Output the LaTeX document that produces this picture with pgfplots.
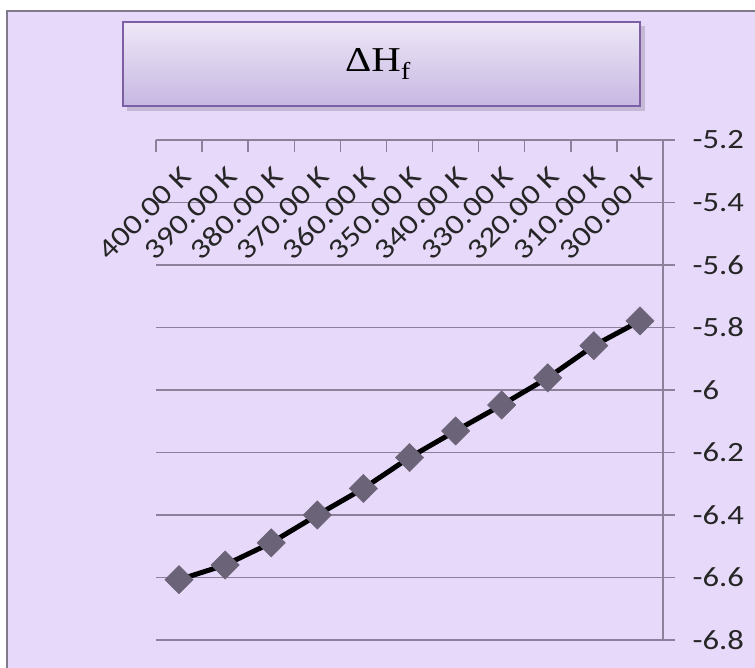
\documentclass[border=0pt]{standalone}
\usepackage{fontspec}
\usepackage{pgfplots}
\pgfplotsset{compat=1.18}
\setmainfont{Carlito}
\newfontfamily\lab[FakeStretch=1.17]{Carlito}
\newfontfamily\ttl[FakeStretch=1.17]{Liberation Serif}
\definecolor{bg}{RGB}{231,217,250}
\definecolor{gridc}{RGB}{140,128,155}
\definecolor{mk}{RGB}{107,99,119}
\definecolor{bord}{RGB}{125,95,166}
\definecolor{outerc}{RGB}{128,122,140}
\definecolor{ttop}{RGB}{238,232,247}
\definecolor{tbot}{RGB}{199,183,226}
\begin{document}
\begin{tikzpicture}
\useasboundingbox (0,0) rectangle (755bp,-668bp);
\fill[white] (0,0) rectangle (755bp,-668bp);
\fill[bg] (7bp,-11bp) rectangle (755bp,-668bp);
\draw[outerc, line width=2.5bp] (7bp,-668bp) -- (7bp,-11bp) -- (755bp,-11bp);
% title box
\fill[black, opacity=0.15] (127bp,-26bp) rectangle (645bp,-111bp);
\shade[top color=ttop, bottom color=tbot] (123bp,-22bp) rectangle (640bp,-106bp);
\draw[bord, line width=2.5bp] (123bp,-22bp) rectangle (640bp,-106bp);
\node[anchor=base, inner sep=0pt, font=\ttl\fontsize{35}{40}\selectfont] at (378bp,-71bp) {ΔH\textsubscript{f}};
\begin{axis}[
  at={(156bp,-640bp)}, anchor=south west,
  width=507bp, height=500bp, scale only axis,
  xmin=-0.5, xmax=10.5, ymin=-6.8, ymax=-5.2,
  axis x line*=top, axis y line*=right,
  axis line style={gridc, line width=1.8bp},
  tick align=outside, major tick length=11.5bp,
  xtick={0,...,10},
  xticklabels={400.00 K,390.00 K,380.00 K,370.00 K,360.00 K,350.00 K,340.00 K,330.00 K,320.00 K,310.00 K,300.00 K},
  x tick style={gridc, line width=1.5bp, xshift=-23.045bp, yshift=-11.5bp},
  y tick style={gridc, line width=1.5bp},
  ytick={-6.8,-6.6,-6.4,-6.2,-6,-5.8,-5.6,-5.4,-5.2},
  yticklabels={-6.8,-6.6,-6.4,-6.2,-6,-5.8,-5.6,-5.4,-5.2},
  ymajorgrids, grid style={gridc, line width=1.5bp},
  xticklabel style={font=\lab\fontsize{28.5}{31}\selectfont, text=black!85, inner sep=0pt, anchor=east, xshift=7bp, yshift=-43bp, rotate=45},
  yticklabel style={font=\lab\fontsize{28}{31}\selectfont, text=black!85, inner sep=0pt, anchor=west, xshift=18bp},
  clip=false,
]
\addplot[black, line width=5bp, mark=square*, mark size=10bp, mark options={fill=mk, draw=mk, rotate=45, line width=0.5bp}] coordinates {
(0,-6.607) (1,-6.560) (2,-6.489) (3,-6.400) (4,-6.315) (5,-6.216) (6,-6.131) (7,-6.048) (8,-5.961) (9,-5.858) (10,-5.779)
};
\end{axis}
\end{tikzpicture}
\end{document}
